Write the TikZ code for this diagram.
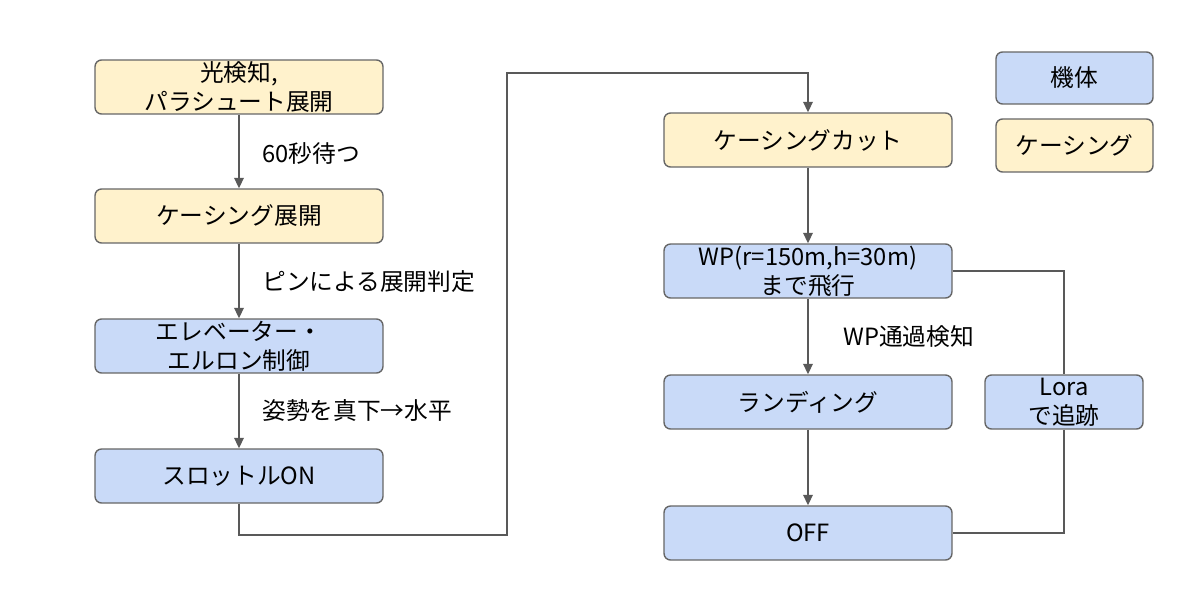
\documentclass[tikz,border=0pt]{standalone}
\usepackage{fontspec}
\setmainfont{Noto Sans CJK JP}
\usetikzlibrary{arrows.meta}
\definecolor{kitai}{HTML}{C9DAF8}
\definecolor{casing}{HTML}{FFF2CC}
\definecolor{edge}{HTML}{666666}
\definecolor{wire}{HTML}{595959}
\begin{document}
\begin{tikzpicture}[x=0.02cm,y=-0.02cm]
    \tikzstyle{every node}+=[font=\fontsize{13.5}{16.4}\selectfont, inner sep=0pt, align=center]
    \tikzstyle{box}=[draw=edge, line width=0.8pt, rounded corners=0.13cm, minimum width=5.76cm, minimum height=1.08cm]
    \tikzstyle{body}=[box, fill=kitai]
    \tikzstyle{case}=[box, fill=casing]
    \tikzstyle{flow}=[draw=wire, line width=0.8pt, -{Triangle[width=5.5pt,length=6pt]}]
    \tikzstyle{link}=[draw=wire, line width=0.8pt]
    \useasboundingbox (0,0) rectangle (1180,595);
    \node [case] (light) at (239,87) {光検知,\\パラシュート展開};
    \node [case] (open) at (239,216) {ケーシング展開};
    \node [body] (elev) at (239,346) {エレベーター・\\エルロン制御};
    \node [body] (thr) at (239,476) {スロットルON};
    \node [case] (cut) at (808,140) {ケーシングカット};
    \node [body] (wp) at (808,271) {WP(r=150m,h=30m)\\まで飛行};
    \node [body] (land) at (808,402) {ランディング};
    \node [body] (off) at (808,533) {OFF};
    \node [body, minimum width=3.16cm] (lora) at (1064,402) {Lora\\で追跡};
    \node [body, minimum width=3.14cm, minimum height=1.04cm] (kleg) at (1074.5,78) {機体};
    \node [case, minimum width=3.14cm, minimum height=1.06cm] (cleg) at (1074.5,145.5) {ケーシング};
    \node [anchor=west] (wait) at (262,153) {60秒待つ};
    \node [anchor=west] (pin) at (262,282) {ピンによる展開判定};
    \node [anchor=west] (pose) at (262,410) {姿勢を真下→水平};
    \node [anchor=west] (pass) at (843,337) {WP通過検知};
    \coordinate (low) at (239,535);
    \coordinate (high) at (507,73);
    \draw [flow] (light) -- (open);
    \draw [flow] (open) -- (elev);
    \draw [flow] (elev) -- (thr);
    \draw [flow] (thr.south) -- (low) -| (high) -| (cut.north);
    \draw [flow] (cut) -- (wp);
    \draw [flow] (wp) -- (land);
    \draw [flow] (land) -- (off);
    \draw [link] (wp.east) -| (lora.north);
    \draw [link] (lora.south) |- (off.east);
\end{tikzpicture}
\end{document}
